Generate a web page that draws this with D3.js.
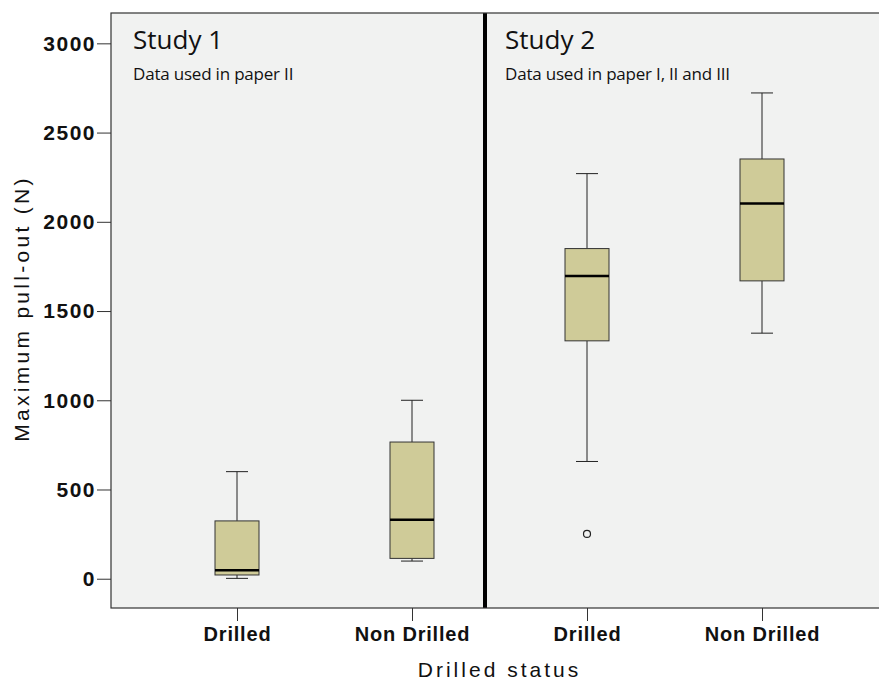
<!DOCTYPE html>
<html>
<head>
<meta charset="utf-8">
<script src="https://cdn.jsdelivr.net/npm/d3@7"></script>
<style>
  body { margin: 0; background: #fff; }
</style>
</head>
<body>
<div id="chart"></div>
<script>
// data
var categories = ["Drilled|1", "Non Drilled|1", "Drilled|2", "Non Drilled|2"];
var whiskerLow  = [2, 99, 657, 1376];
var q1          = [21, 114, 1333, 1669];
var medians     = [47, 331, 1697, 2103];
var q3          = [324, 766, 1850, 2352];
var whiskerHigh = [600, 1000, 2270, 2722];
var outliers    = [{cat: "Drilled|2", value: 251}];
var yTicks = [0, 500, 1000, 1500, 2000, 2500, 3000];
var panels = [
  {title: "Study 1", sub: "Data used in paper II"},
  {title: "Study 2", sub: "Data used in paper I, II and III"}
];

var margin = {top: 13, right: -9, bottom: 72, left: 111},
    width = 879 - margin.left - margin.right,
    height = 680 - margin.top - margin.bottom;

var svg = d3.select("#chart")
  .append("svg")
    .attr("width", 879)
    .attr("height", 680)
  .append("g")
    .attr("transform", "translate(" + margin.left + "," + margin.top + ")");

var x = d3.scalePoint()
  .domain(categories)
  .range([0, width])
  .padding(0.72);

var y = d3.scaleLinear()
  .domain([-164, 3170])
  .range([height, 0]);

// plot background
svg.append("rect")
  .attr("width", width)
  .attr("height", height)
  .attr("fill", "#f1f2f1");

var boxW = 44;

var boxes = categories.map(function (c, i) {
  return {cat: c, lo: whiskerLow[i], q1: q1[i], med: medians[i], q3: q3[i], hi: whiskerHigh[i]};
});

var g = svg.selectAll(".box")
  .data(boxes)
  .enter()
  .append("g")
    .attr("class", "box");

// whiskers
g.append("line")
  .attr("x1", d => x(d.cat)).attr("x2", d => x(d.cat))
  .attr("y1", d => y(d.hi)).attr("y2", d => y(d.q3))
  .attr("stroke", "#222").attr("stroke-width", 1);
g.append("line")
  .attr("x1", d => x(d.cat)).attr("x2", d => x(d.cat))
  .attr("y1", d => y(d.lo)).attr("y2", d => y(d.q1))
  .attr("stroke", "#222").attr("stroke-width", 1);
g.append("line")
  .attr("x1", d => x(d.cat) - boxW / 4).attr("x2", d => x(d.cat) + boxW / 4)
  .attr("y1", d => y(d.hi)).attr("y2", d => y(d.hi))
  .attr("stroke", "#222").attr("stroke-width", 1);
g.append("line")
  .attr("x1", d => x(d.cat) - boxW / 4).attr("x2", d => x(d.cat) + boxW / 4)
  .attr("y1", d => y(d.lo)).attr("y2", d => y(d.lo))
  .attr("stroke", "#222").attr("stroke-width", 1);

// box
g.append("rect")
  .attr("x", d => x(d.cat) - boxW / 2)
  .attr("y", d => y(d.q3))
  .attr("width", boxW)
  .attr("height", d => y(d.q1) - y(d.q3))
  .attr("fill", "#cfcb98")
  .attr("stroke", "#333")
  .attr("stroke-width", 1);

// median
g.append("line")
  .attr("x1", d => x(d.cat) - boxW / 2).attr("x2", d => x(d.cat) + boxW / 2)
  .attr("y1", d => y(d.med)).attr("y2", d => y(d.med))
  .attr("stroke", "#000").attr("stroke-width", 2.5);

// outliers
svg.selectAll(".outlier")
  .data(outliers)
  .enter()
  .append("circle")
    .attr("cx", d => x(d.cat))
    .attr("cy", d => y(d.value))
    .attr("r", 3.5)
    .attr("fill", "none")
    .attr("stroke", "#222")
    .attr("stroke-width", 1.2);

// divider between studies
var divX = x("Non Drilled|1") + 73;
svg.append("line")
  .attr("x1", divX).attr("x2", divX)
  .attr("y1", 0).attr("y2", height)
  .attr("stroke", "#000")
  .attr("stroke-width", 4);

// panel titles
panels.forEach(function (p, i) {
  var px = i === 0 ? 22 : divX + 20;
  svg.append("text")
    .attr("x", px).attr("y", 36)
    .attr("font-family", "'Open Sans', sans-serif")
    .attr("font-size", 26)
    .attr("fill", "#111")
    .text(p.title);
  svg.append("text")
    .attr("x", px).attr("y", 67)
    .attr("font-family", "'Open Sans', sans-serif")
    .attr("font-size", 17)
    .attr("letter-spacing", -0.2)
    .attr("fill", "#111")
    .text(p.sub);
});

// frame
svg.append("rect")
  .attr("width", width)
  .attr("height", height)
  .attr("fill", "none")
  .attr("stroke", "#333")
  .attr("stroke-width", 1.2);

// Y axis
var yAxis = svg.append("g")
  .call(d3.axisLeft(y).tickValues(yTicks).tickFormat(d3.format("d"))
    .tickSize(14).tickPadding(1).tickSizeOuter(0));
yAxis.select(".domain").remove();
yAxis.selectAll("text")
  .attr("font-family", "'Liberation Sans', Arial, sans-serif")
  .attr("font-weight", 700)
  .attr("font-size", 21)
  .attr("letter-spacing", 1.5)
  .attr("fill", "#111");
yAxis.selectAll("line").attr("stroke", "#333");

// X axis
var xAxis = svg.append("g")
  .attr("transform", "translate(0," + height + ")")
  .call(d3.axisBottom(x).tickSize(13).tickPadding(6).tickSizeOuter(0)
    .tickFormat(d => d.split("|")[0]));
xAxis.select(".domain").remove();
xAxis.selectAll("text")
  .attr("font-family", "'Liberation Sans', Arial, sans-serif")
  .attr("font-weight", 700)
  .attr("font-size", 20)
  .attr("letter-spacing", 0.8)
  .attr("fill", "#111");
xAxis.selectAll("line").attr("stroke", "#333");

// text label for the y axis
svg.append("text")
  .attr("transform", "rotate(-90)")
  .attr("x", -295.5)
  .attr("y", 0 - margin.left + 29)
  .style("text-anchor", "middle")
  .attr("font-family", "'Liberation Sans', Arial, sans-serif")
  .attr("font-size", 21)
  .attr("letter-spacing", 3.3)
  .attr("fill", "#111")
  .text("Maximum pull-out (N)");

// text label for the x axis
svg.append("text")
  .attr("x", width / 2)
  .attr("y", height + 69)
  .style("text-anchor", "middle")
  .attr("font-family", "'Liberation Sans', Arial, sans-serif")
  .attr("font-size", 21)
  .attr("letter-spacing", 3)
  .attr("fill", "#111")
  .text("Drilled status");
</script>
</body>
</html>
